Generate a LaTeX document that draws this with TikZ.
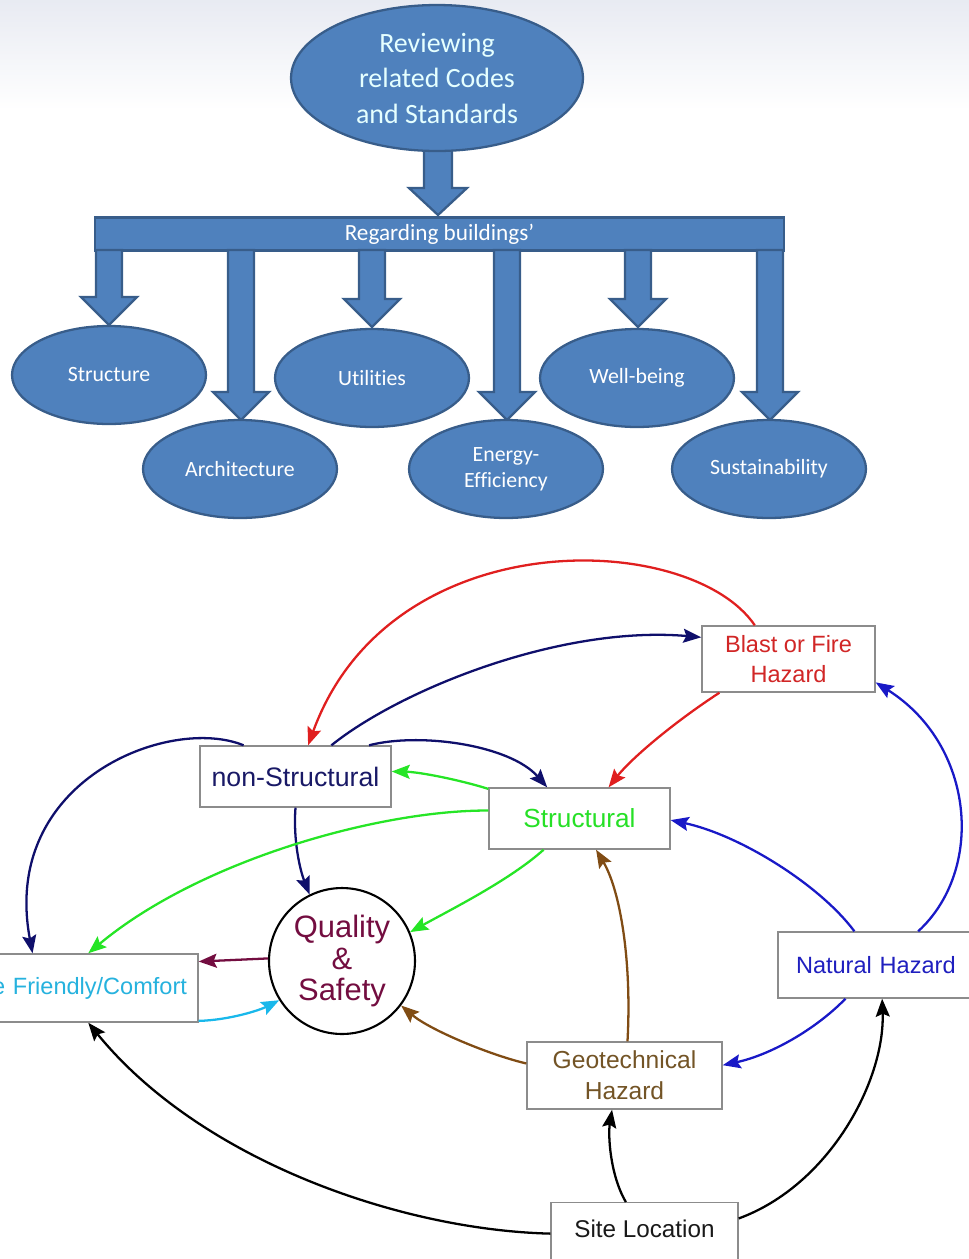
\documentclass[tikz,border=0pt]{standalone}
\usepackage{fontspec}
\usepackage{tikz}
\usetikzlibrary{shapes.geometric,arrows.meta}
\newfontfamily\calibrifont[Ligatures=NoCommon]{Carlito}
\newfontfamily\arialfont{Liberation Sans}

\begin{document}
\begin{tikzpicture}[x=0.02cm,y=-0.02cm,
  blueshape/.style={draw=col_edge,fill=col_fill,line width=1.3pt},
  bubble/.style={blueshape,ellipse,minimum width=3.88cm,minimum height=1.96cm,inner sep=0pt,text=white,align=center,font=\calibrifont\fontsize{12.4}{15}\selectfont},
  blockarrow/.style={blueshape,line join=miter},
  hazbox/.style={draw=col_box,fill=white,line width=0.8pt,align=center,minimum height=1.32cm,inner sep=0pt,font=\arialfont\fontsize{13.4}{17}\selectfont},
  link/.style={line width=1.3pt,-{Stealth[length=3.6mm,width=2.8mm,inset=0.6mm]}}]
%
\definecolor{col_bg}{rgb}{0.91,0.92,0.95}
\definecolor{col_fill}{rgb}{0.31,0.506,0.741}
\definecolor{col_edge}{rgb}{0.22,0.365,0.541}
\definecolor{col_glow}{rgb}{0.9,1.0,1.0}
\definecolor{col_box}{rgb}{0.55,0.55,0.55}
%
%
\definecolor{col_lab_blast}{rgb}{0.82,0.15,0.15}
\definecolor{col_lab_nonstr}{rgb}{0.1,0.1,0.4}
\definecolor{col_lab_struct}{rgb}{0.15,0.88,0.15}
\definecolor{col_lab_qs}{rgb}{0.45,0.05,0.25}
\definecolor{col_lab_friendly}{rgb}{0.15,0.7,0.87}
\definecolor{col_lab_natural}{rgb}{0.12,0.12,0.75}
\definecolor{col_lab_geo}{rgb}{0.45,0.33,0.15}
\definecolor{col_lab_site}{rgb}{0.1,0.1,0.1}
%
%
\definecolor{col_blast-nonstr}{rgb}{0.88,0.12,0.12}
\definecolor{col_blast-struct}{rgb}{0.88,0.12,0.12}
\definecolor{col_nonstr-blast}{rgb}{0.06,0.06,0.42}
\definecolor{col_nonstr-struct}{rgb}{0.06,0.06,0.42}
\definecolor{col_nonstr-friendly}{rgb}{0.06,0.06,0.42}
\definecolor{col_nonstr-qs}{rgb}{0.06,0.06,0.42}
\definecolor{col_struct-nonstr}{rgb}{0.15,0.9,0.15}
\definecolor{col_struct-friendly}{rgb}{0.15,0.9,0.15}
\definecolor{col_struct-qs}{rgb}{0.15,0.9,0.15}
\definecolor{col_qs-friendly}{rgb}{0.45,0.05,0.25}
\definecolor{col_friendly-qs}{rgb}{0.1,0.72,0.92}
\definecolor{col_geo-qs}{rgb}{0.5,0.3,0.08}
\definecolor{col_geo-struct}{rgb}{0.5,0.3,0.08}
\definecolor{col_natural-struct}{rgb}{0.1,0.1,0.78}
\definecolor{col_natural-blast}{rgb}{0.1,0.1,0.78}
\definecolor{col_natural-geo}{rgb}{0.1,0.1,0.78}
\definecolor{col_site-friendly}{rgb}{0.0,0.0,0.0}
\definecolor{col_site-geo}{rgb}{0.0,0.0,0.0}
\definecolor{col_site-natural}{rgb}{0.0,0.0,0.0}
%
%
\useasboundingbox (0,0) rectangle (969,1259);
\shade[top color=col_bg,bottom color=white] (0,0) rectangle (969,110);
%
% codes and standards
%
\draw[blockarrow] (424,140) -- (424,188) -- (409,188) -- (438,215) -- (467,188) -- (452,188) -- (452,140) -- cycle;
\node[bubble,minimum width=5.84cm,minimum height=2.92cm,text=col_glow,font=\calibrifont\fontsize{15.9}{20.2}\selectfont] (review) at (437,78) {Reviewing\\related Codes\\and Standards};
\node[blueshape,minimum width=13.78cm,minimum height=0.66cm,inner sep=0pt,text=white,font=\calibrifont\fontsize{13.2}{14}\selectfont] (regarding) at (439.5,234) {Regarding buildings’};
%
\draw[blockarrow] (96,250) -- (96,297) -- (81,297) -- (109,325) -- (137,297) -- (122,297) -- (122,250) -- cycle;
\draw[blockarrow] (228,250) -- (228,392) -- (213,392) -- (241,420) -- (269,392) -- (254,392) -- (254,250) -- cycle;
\draw[blockarrow] (359,250) -- (359,299) -- (344,299) -- (372,327) -- (400,299) -- (385,299) -- (385,250) -- cycle;
\draw[blockarrow] (494,250) -- (494,392) -- (479,392) -- (507,420) -- (535,392) -- (520,392) -- (520,250) -- cycle;
\draw[blockarrow] (625,250) -- (625,299) -- (610,299) -- (638,327) -- (666,299) -- (651,299) -- (651,250) -- cycle;
\draw[blockarrow] (757,250) -- (757,392) -- (742,392) -- (770,420) -- (798,392) -- (783,392) -- (783,250) -- cycle;
%
\node[bubble] (structure) at (109,375) {Structure};
\node[bubble] (utilities) at (372,378) {Utilities};
\node[bubble] (wellbeing) at (637,378) {Well-being};
\node[bubble] (architecture) at (240,469) {Architecture};
\node[bubble] (energy) at (506,469) {Energy-\\Efficiency};
\node[bubble] (sustain) at (769,469) {Sustainability};
%
% hazards
%
\node[hazbox,minimum width=3.46cm,text=col_lab_blast] (blast) at (788.5,659) {Blast or Fire\\Hazard};
\node[hazbox,minimum width=3.82cm,minimum height=1.22cm,text=col_lab_nonstr,font=\arialfont\fontsize{15.2}{17}\selectfont] (nonstr) at (295.5,776.5) {non-Structural};
\node[hazbox,minimum width=3.62cm,minimum height=1.22cm,text=col_lab_struct,font=\arialfont\fontsize{14.9}{17}\selectfont] (struct) at (579.5,818.5) {Structural};
\node[circle,draw=black,line width=1.2pt,minimum size=2.92cm,inner sep=0pt,align=center,text=col_lab_qs,font=\arialfont\fontsize{17.6}{18.2}\selectfont] (qs) at (342,961) {Quality\\\&\\Safety};
\node[hazbox,minimum width=4.56cm,minimum height=1.36cm,text width=4.12cm,align=right,text=col_lab_friendly] (friendly) at (84,988) {e Friendly/Comfort};
\node[hazbox,minimum width=4cm,text width=3.28cm,align=left,text=col_lab_natural] (natural) at (878,965) {Natural Hazard};
\node[hazbox,minimum width=3.9cm,minimum height=1.34cm,text=col_lab_geo,font=\arialfont\fontsize{14}{17.6}\selectfont] (geo) at (624.5,1075.5) {Geotechnical\\Hazard};
\node[hazbox,minimum width=3.74cm,anchor=north,text height=0.5cm,text depth=0.6cm,inner ysep=0.2cm,text=col_lab_site,font=\arialfont\fontsize{13.8}{17}\selectfont] (site) at (644.5,1202) {Site Location};
%
%
\draw[link,draw=col_blast-nonstr] (blast.135) .. controls (690,530) and (390,520) .. (nonstr.68);
\draw[link,draw=col_blast-struct] (blast.206) .. controls (670,725) and (630,760) .. (struct.47);
\draw[link,draw=col_nonstr-blast] (nonstr.41.5) .. controls (400,690) and (560,625) .. (blast.166);
\draw[link,draw=col_nonstr-struct] (nonstr.23) .. controls (420,732) and (510,745) .. (struct.136);
\draw[link,draw=col_nonstr-friendly] (nonstr.149) .. controls (170,715) and (0,780) .. (friendly.146);
\draw[link,draw=col_nonstr-qs] (nonstr.south) .. controls (293,840) and (300,870) .. (qs.116);
\draw[link,draw=col_struct-nonstr] (struct.162) .. controls (460,780) and (420,772) .. (nonstr.3);
\draw[link,draw=col_struct-friendly] (struct.175) .. controls (380,810) and (200,860) .. (friendly.83);
\draw[link,draw=col_struct-qs] (struct.221) .. controls (510,880) and (450,910) .. (qs.23);
\draw[link,draw=col_qs-friendly] (qs.178) -- (friendly.13);
\draw[link,draw=col_friendly-qs] (friendly.-16) .. controls (230,1020) and (260,1010) .. (qs.212);
\draw[link,draw=col_geo-qs] (geo.173) .. controls (490,1055) and (430,1030) .. (qs.-37);
\draw[link,draw=col_geo-struct] (geo.85) .. controls (632,960) and (620,890) .. (struct.-62);
\draw[link,draw=col_natural-struct] (natural.125) .. controls (820,885) and (740,835) .. (struct.-1);
\draw[link,draw=col_natural-blast] (natural.40) .. controls (985,870) and (975,745) .. (blast.-15);
\draw[link,draw=col_natural-geo] (natural.226) .. controls (815,1030) and (770,1055) .. (geo.6);
\draw[link,draw=col_site-friendly] (site.176) .. controls (400,1230) and (200,1160) .. (friendly.-83);
\draw[link,draw=col_site-geo] (site.116) .. controls (610,1175) and (608,1135) .. (geo.250);
\draw[link,draw=col_site-natural] (site.13) .. controls (830,1185) and (885,1080) .. (natural.-83);
%
%
\end{tikzpicture}
\end{document}
